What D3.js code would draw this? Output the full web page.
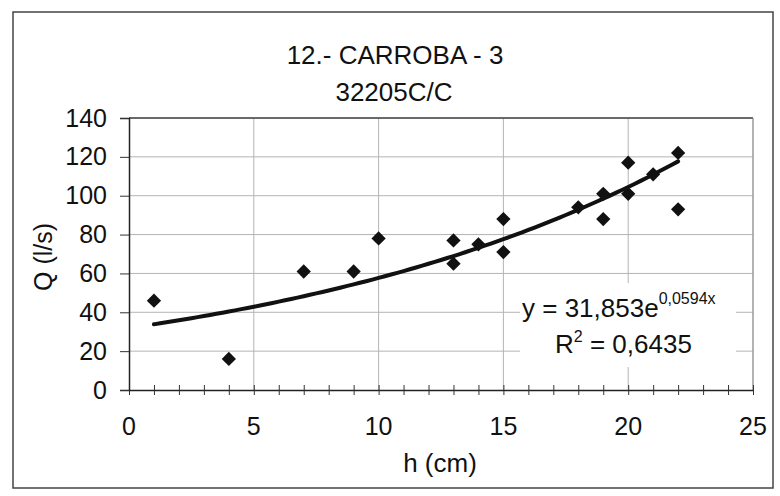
<!DOCTYPE html>
<html><head><meta charset="utf-8">
<script src="https://cdn.jsdelivr.net/npm/d3@7"></script>
<style>body{margin:0;background:#fff;} svg{display:block;} text{font-family:"Liberation Sans",Arial,sans-serif;fill:#111;}</style>
</head><body>
<svg id="c" width="780" height="496"></svg>
<script>
const titleLines = ["12.- CARROBA - 3", "32205C/C"];
const hValues = [1, 4, 7, 9, 10, 13, 13, 14, 15, 15, 18, 19, 19, 20, 20, 21, 22, 22];
const qValues = [46, 16, 61, 61, 78, 77, 65, 75, 88, 71, 94, 101, 88, 117, 101, 111, 122, 93];
const xTicks = [0, 5, 10, 15, 20, 25];
const yTicks = [0, 20, 40, 60, 80, 100, 120, 140];
const fitA = 31.853, fitB = 0.0594;
const fitRange = [1, 22];
const eqText = "y = 31,853e", eqExp = "0,0594x", r2Text = "= 0,6435";
const xLabel = "h (cm)", yLabel = "Q (l/s)";

const svg = d3.select("#c");
const L = 129, R = 753, T = 118, B = 390;
const x = d3.scaleLinear().domain([0, 25]).range([L, R]);
const y = d3.scaleLinear().domain([0, 140]).range([B, T]);

// outer frame
svg.append("rect").attr("x", 13).attr("y", 12).attr("width", 760).attr("height", 476)
  .attr("fill", "#fff").attr("stroke", "#444").attr("stroke-width", 1.5);

// grid
const g = svg.append("g");
g.selectAll(".hg").data(yTicks.slice(1)).join("line")
  .attr("x1", L).attr("x2", R).attr("y1", d => y(d)).attr("y2", d => y(d))
  .attr("stroke", "#b4b4b4").attr("stroke-width", 1);
g.selectAll(".vg").data(xTicks.slice(1)).join("line")
  .attr("y1", T).attr("y2", B).attr("x1", d => x(d)).attr("x2", d => x(d))
  .attr("stroke", "#b4b4b4").attr("stroke-width", 1);
// plot border top/right
svg.append("line").attr("x1", L).attr("x2", R).attr("y1", T).attr("y2", T).attr("stroke", "#444").attr("stroke-width", 1.5);
svg.append("line").attr("x1", R).attr("x2", R).attr("y1", T).attr("y2", B).attr("stroke", "#999").attr("stroke-width", 1.2);

// x axis
const xAxis = d3.axisBottom(x).tickValues(d3.range(0, 26, 1)).tickSize(0).tickFormat("");
const xg = svg.append("g").attr("transform", `translate(0,${B})`).call(xAxis);
xg.select(".domain").attr("stroke", "#222").attr("stroke-width", 1.5);
xg.selectAll(".tick line").remove();
xg.selectAll(".tick").append("line").attr("y1", -5).attr("y2", 5).attr("stroke", "#333");
svg.append("g").selectAll("text").data(xTicks).join("text")
  .attr("x", d => x(d)).attr("y", 435).attr("text-anchor", "middle")
  .attr("font-size", 25).text(d => d);

// y axis
const yAxis = d3.axisLeft(y).tickValues(yTicks).tickSize(9).tickPadding(13);
const yg = svg.append("g").attr("transform", `translate(${L},0)`).call(yAxis);
yg.select(".domain").attr("stroke", "#222").attr("stroke-width", 1.5);
yg.selectAll(".tick line").attr("stroke", "#333");
yg.selectAll(".tick text").attr("font-size", 25).attr("font-family", "Liberation Sans, Arial, sans-serif").attr("fill", "#111");

// titles
svg.append("text").attr("x", 395).attr("y", 64).attr("text-anchor", "middle").attr("font-size", 26).text(titleLines[0]);
svg.append("text").attr("x", 394).attr("y", 101).attr("text-anchor", "middle").attr("font-size", 26).text(titleLines[1]);
svg.append("text").attr("x", 440).attr("y", 472).attr("text-anchor", "middle").attr("font-size", 26).text(xLabel);
svg.append("text").attr("transform", `translate(52,257) rotate(-90)`).attr("text-anchor", "middle").attr("font-size", 25).text(yLabel);

// trendline
const fitPts = d3.range(fitRange[0], fitRange[1] + 0.001, 0.25).map(h => [h, fitA * Math.exp(fitB * h)]);
svg.append("path").datum(fitPts)
  .attr("d", d3.line().x(d => x(d[0])).y(d => y(d[1])).curve(d3.curveMonotoneX))
  .attr("fill", "none").attr("stroke", "#111").attr("stroke-width", 4).attr("stroke-linecap", "round");

// label box
svg.append("rect").attr("x", 520).attr("y", 283).attr("width", 216).attr("height", 84).attr("fill", "#fff");
const eq = svg.append("text").attr("x", 522).attr("y", 317).attr("font-size", 26);
eq.append("tspan").text(eqText);
eq.append("tspan").attr("dy", -13).attr("font-size", 16).text(eqExp);
const r2 = svg.append("text").attr("x", 555).attr("y", 353).attr("font-size", 26);
r2.append("tspan").text("R");
r2.append("tspan").attr("dy", -11).attr("font-size", 16).text("2");
r2.append("tspan").attr("dy", 11).text(" " + r2Text);

// points
const pts = hValues.map((h, i) => [h, qValues[i]]);
svg.append("g").selectAll("path").data(pts).join("path")
  .attr("transform", d => `translate(${x(d[0])},${y(d[1])})`)
  .attr("d", d3.symbol(d3.symbolDiamond2 || d3.symbolDiamond, 130)())
  .attr("fill", "#111");
</script>
</body></html>
